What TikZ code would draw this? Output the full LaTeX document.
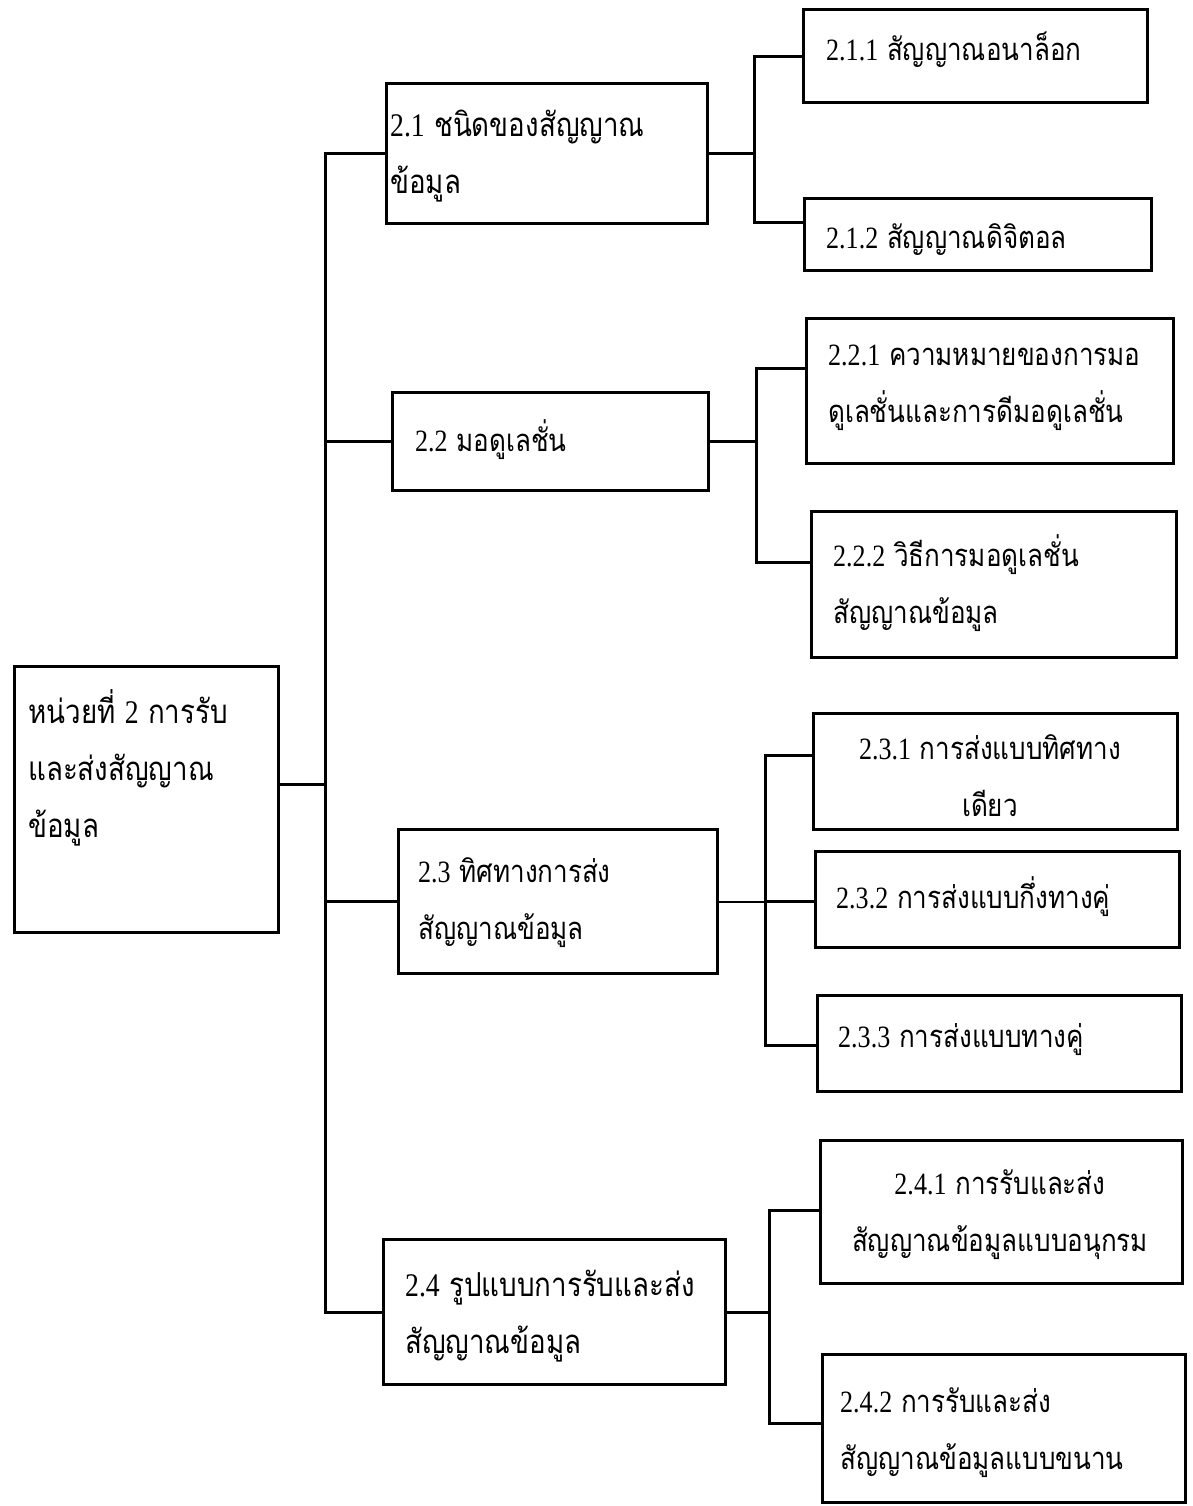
\documentclass[tikz,border=0pt]{standalone}
\usepackage{fontspec}
\setmainfont[Script=Thai, FakeStretch=0.84]{Loma}
\newfontfamily\latfont[FakeStretch=0.84]{Liberation Serif}
\newcommand{\nm}[1]{{\latfont #1}}
\tikzset{
  box/.style={draw, line width=3.4pt, inner sep=0pt, anchor=north west, rectangle},
  conn/.style={line width=3pt},
  thinconn/.style={line width=2pt},
  lbl/.style={inner sep=0pt, anchor=west, align=left, font=\fontsize{31}{57}\selectfont},
  biglbl/.style={lbl, font=\fontsize{33}{57}\selectfont},
  clbl/.style={inner sep=0pt, anchor=center, align=center, font=\fontsize{31}{57}\selectfont},
}
\begin{document}
\begin{tikzpicture}[x=1pt,y=-1pt]
\useasboundingbox (0,0) rectangle (1193,1506);
% boxes
\node[box, minimum width=264pt, minimum height=266pt] (root) at (13,665) {};
\node[box, minimum width=321pt, minimum height=140pt] (b21) at (385,82) {};
\node[box, minimum width=316pt, minimum height=98pt] (b22) at (391,391) {};
\node[box, minimum width=319pt, minimum height=144pt] (b23) at (397,828) {};
\node[box, minimum width=342pt, minimum height=145pt] (b24) at (382,1238) {};
\node[box, minimum width=344pt, minimum height=93pt] (b211) at (802,8) {};
\node[box, minimum width=347pt, minimum height=72pt] (b212) at (803,197) {};
\node[box, minimum width=367pt, minimum height=145pt] (b221) at (805,317) {};
\node[box, minimum width=365pt, minimum height=146pt] (b222) at (810,510) {};
\node[box, minimum width=364pt, minimum height=116pt] (b231) at (812,712) {};
\node[box, minimum width=364pt, minimum height=96pt] (b232) at (814,850) {};
\node[box, minimum width=364pt, minimum height=96pt] (b233) at (816,994) {};
\node[box, minimum width=362pt, minimum height=143pt] (b241) at (819,1139) {};
\node[box, minimum width=363pt, minimum height=148pt] (b242) at (821,1353) {};
% texts
\node[biglbl] (t0) at (28,768) {หน่วยที่ \nm{2} การรับ\\และส่งสัญญาณ\\ข้อมูล};
\node[biglbl] (t21) at (390,156) {\nm{2.1} ชนิดของสัญญาณ\\ข้อมูล};
\node[lbl] (t22) at (415,440) {\nm{2.2} มอดูเลชั่น};
\node[lbl] (t23) at (418,903) {\nm{2.3} ทิศทางการส่ง\\สัญญาณข้อมูล};
\node[biglbl] (t24) at (405,1316) {\nm{2.4} รูปแบบการรับและส่ง\\สัญญาณข้อมูล};
\node[lbl] (t211) at (826,50) {\nm{2.1.1} สัญญาณอนาล็อก};
\node[lbl] (t212) at (826,240) {\nm{2.1.2} สัญญาณดิจิตอล};
\node[lbl] (t221) at (828,388) {\nm{2.2.1} ความหมายของการมอ\\ดูเลชั่นและการดีมอดูเลชั่น};
\node[lbl] (t222) at (833,583) {\nm{2.2.2} วิธีการมอดูเลชั่น\\สัญญาณข้อมูล};
\node[clbl] (t231) at (990,776) {\nm{2.3.1} การส่งแบบทิศทาง\\เดียว};
\node[lbl] (t232) at (836,897) {\nm{2.3.2} การส่งแบบกึ่งทางคู่};
\node[lbl] (t233) at (838,1040) {\nm{2.3.3} การส่งแบบทางคู่};
\node[clbl] (t241) at (1000,1215) {\nm{2.4.1} การรับและส่ง\\สัญญาณข้อมูลแบบอนุกรม};
\node[lbl] (t242) at (840,1433) {\nm{2.4.2} การรับและส่ง\\สัญญาณข้อมูลแบบขนาน};
% trunk
\coordinate (tx) at (325,0);
\coordinate (rj) at (325,784);
\draw[conn] (b21.west) -- (b21.west -| tx) -- (b24.west -| tx) -- (b24.west);
\draw[conn] (b22.west) -- (b22.west -| tx);
\draw[conn] (b23.west) -- (b23.west -| tx);
\draw[conn] (root.east |- rj) -- (rj);
% branch 2.1
\coordinate (j21a) at (754,57);
\coordinate (j21b) at (754,223);
\draw[conn] (b21.east) -- (b21.east -| j21a);
\draw[conn] (b211.west |- j21a) -- (j21a) -- (j21b) -- (b212.west |- j21b);
% branch 2.2
\coordinate (j22a) at (756,368);
\coordinate (j22b) at (756,562);
\draw[conn] (b22.east) -- (b22.east -| j22a);
\draw[conn] (b221.west |- j22a) -- (j22a) -- (j22b) -- (b222.west |- j22b);
% branch 2.3
\coordinate (j23a) at (765,755);
\coordinate (j23b) at (765,1045);
\draw[thinconn] (b23.east) -- (b23.east -| j23a);
\draw[conn] (b231.west |- j23a) -- (j23a) -- (j23b) -- (b233.west |- j23b);
\draw[conn] (b23.east -| j23a) -- (b232.west |- b23.east);
% branch 2.4
\coordinate (j24a) at (769,1210);
\coordinate (j24b) at (769,1423);
\draw[conn] (b24.east) -- (b24.east -| j24a);
\draw[conn] (b241.west |- j24a) -- (j24a) -- (j24b) -- (b242.west |- j24b);
\end{tikzpicture}
\end{document}
